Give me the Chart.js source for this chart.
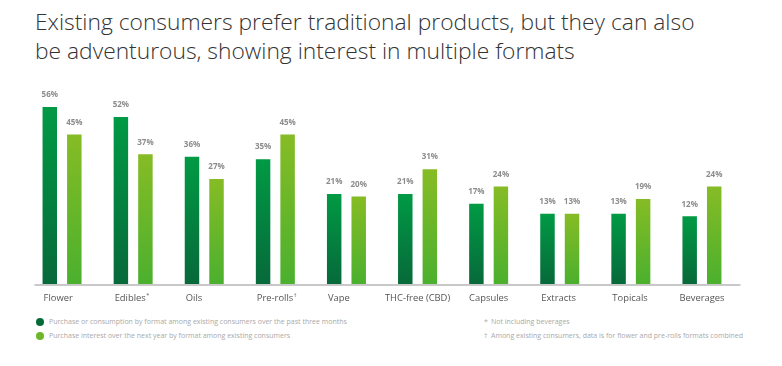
<!DOCTYPE html>
<html>
<head>
<meta charset="utf-8">
<script src="https://cdn.jsdelivr.net/npm/chart.js@4.4.1/dist/chart.umd.min.js"></script>
<style>
    body { margin: 0; background: #fff; font-family: "Open Sans", sans-serif; }
    #wrap { position: relative; width: 782px; height: 366px; overflow: hidden; }
    h1 { position: absolute; left: 35px; top: 7px; margin: 0; font-weight: 300; font-size: 22.8px; line-height: 29px; color: #333; }
    #chartBox { position: absolute; left: 0; top: 80px; width: 782px; height: 230px; }
    .legend { position: absolute; font-size: 7px; color: #a9a9a9; line-height: 14px; }
    .legend div { display: flex; align-items: center; white-space: nowrap; }
    .dot { width: 8px; height: 8px; border-radius: 50%; margin-right: 5px; display: inline-block; }
    .mark { display: inline-block; width: 7px; }
</style>
</head>
<body>
<div id="wrap">
    <h1>Existing consumers prefer traditional products, but they can also<br>be adventurous, showing interest in multiple formats</h1>
    <div id="chartBox"><canvas id="formatsChart"></canvas></div>
    <div class="legend" style="left:36px; top:315px;">
        <div><span class="dot" style="background:#046A38"></span>Purchase or consumption by format among existing consumers over the past three months</div>
        <div><span class="dot" style="background:#6DB52A"></span>Purchase interest over the next year by format among existing consumers</div>
    </div>
    <div class="legend" style="left:484px; top:315px;">
        <div><span class="mark">*</span>Not including beverages</div>
        <div><span class="mark">†</span>Among existing consumers, data is for flower and pre-rolls formats combined</div>
    </div>
</div>
<script>
// Data
const formats = ["Flower", "Edibles*", "Oils", "Pre-rolls†", "Vape", "THC-free (CBD)", "Capsules", "Extracts", "Topicals", "Beverages"];
const pastThreeMonths = [56, 52, 36, 35, 21, 21, 17, 13, 13, 12];
const nextYearInterest = [45, 37, 27, 45, 20, 31, 24, 13, 19, 24];

// the original value axis does not start at zero
const yMin = -15.3;
const yMax = 62.9;

const colors = {
    darkTop: "#009A44",
    darkBottom: "#07693A",
    lightTop: "#86BC25",
    lightBottom: "#4BB02E",
    label: "#8c8c8c",
    axisText: "#555555",
    baseline: "#c8c8c8",
};

// vertical gradient per bar, from its top down to the base
function barGradient(topColor, bottomColor) {
    return function (context) {
        const chart = context.chart;
        const area = chart.chartArea;
        if (!area || context.parsed == null) return bottomColor;
        const yTop = chart.scales.y.getPixelForValue(context.parsed.y);
        const g = chart.ctx.createLinearGradient(0, yTop, 0, area.bottom);
        g.addColorStop(0, topColor);
        g.addColorStop(1, bottomColor);
        return g;
    };
}

// values above bars, baseline, and category labels
const decorations = {
    id: "decorations",
    afterDatasetsDraw(chart) {
        const ctx = chart.ctx;
        const area = chart.chartArea;
        ctx.save();

        ctx.strokeStyle = colors.baseline;
        ctx.lineWidth = 2;
        ctx.beginPath();
        ctx.moveTo(area.left + 8, area.bottom + 1);
        ctx.lineTo(area.right + 3, area.bottom + 1);
        ctx.stroke();

        ctx.font = "bold 8px 'Open Sans'";
        ctx.fillStyle = colors.label;
        ctx.textAlign = "center";
        ctx.textBaseline = "bottom";
        chart.data.datasets.forEach((ds, i) => {
            chart.getDatasetMeta(i).data.forEach((bar, j) => {
                ctx.fillText(ds.data[j] + "%", bar.x, bar.y - 8);
            });
        });

        // labels start at the first bar, or are centred when wider than the group
        const firstBars = chart.getDatasetMeta(0).data;
        const xScale = chart.scales.x;
        ctx.textAlign = "left";
        ctx.textBaseline = "alphabetic";
        formats.forEach((name, i) => {
            const bar = firstBars[i];
            const last = name.slice(-1);
            const main = (last === "*" || last === "†") ? name.slice(0, -1) : name;
            ctx.font = "9.4px 'Open Sans'";
            const w = ctx.measureText(main).width;
            const center = xScale.getPixelForValue(i);
            const x = Math.min(bar.x - bar.width / 2 + 1, center - w / 2);
            const y = area.bottom + 17;
            ctx.fillStyle = colors.axisText;
            ctx.fillText(main, x, y);
            if (main !== name) {
                ctx.font = "5.5px 'Open Sans'";
                ctx.fillText(last, x + w + 0.5, y - 4);
            }
        });
        ctx.restore();
    },
};

const formatsCtx = document.getElementById("formatsChart").getContext("2d");
new Chart(formatsCtx, {
    type: "bar",
    data: {
        labels: formats,
        datasets: [
            {
                label: "Purchase or consumption by format among existing consumers over the past three months",
                data: pastThreeMonths,
                base: yMin,
                backgroundColor: barGradient(colors.darkTop, colors.darkBottom),
                borderWidth: 0,
            },
            {
                label: "Purchase interest over the next year by format among existing consumers",
                data: nextYearInterest,
                base: yMin,
                backgroundColor: barGradient(colors.lightTop, colors.lightBottom),
                borderWidth: 0,
            },
        ],
    },
    options: {
        responsive: true,
        maintainAspectRatio: false,
        animation: false,
        categoryPercentage: 0.69,
        barPercentage: 0.59,
        layout: {
            padding: { left: 26.5, right: 44.5, top: 10, bottom: 26 },
        },
        plugins: {
            legend: { display: false },
            tooltip: { enabled: false },
        },
        scales: {
            x: { display: false },
            y: { display: false, min: yMin, max: yMax },
        },
    },
    plugins: [decorations],
});
</script>
</body>
</html>
